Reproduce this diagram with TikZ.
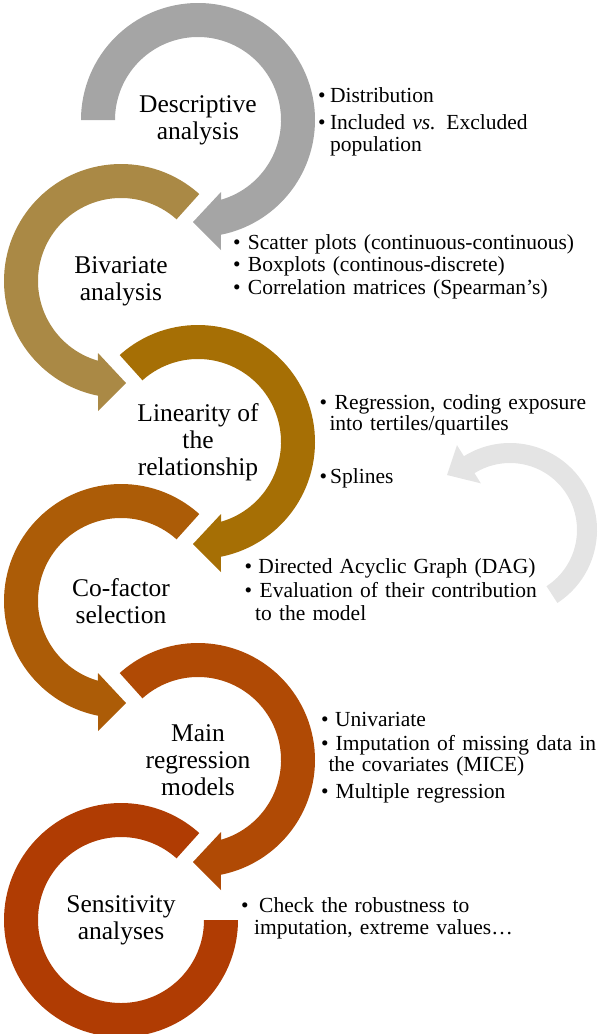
\documentclass[tikz,border=0pt]{standalone}
\usepackage{fontspec}
\setmainfont{Liberation Serif}

\definecolor{stepgray}{HTML}{A5A5A5}
\definecolor{steptan}{HTML}{AA8945}
\definecolor{stepgold}{HTML}{A66F05}
\definecolor{steprust}{HTML}{AC5C07}
\definecolor{stepbrick}{HTML}{B04A05}
\definecolor{stepred}{HTML}{B03C03}
\definecolor{backgray}{HTML}{E4E4E4}

% bullet followed by its text at a fixed offset
\newcommand{\bul}[1]{\makebox[#1][l]{\textbullet}}

\begin{document}
\begin{tikzpicture}[x=1pt,y=1pt]
  \tikzset{
    pics/ringarrow/.style={code={
      \fill (#1:117) arc[start angle=#1, end angle=-78.7, radius=117pt]
        -- (23,-130) -- (-5,-102) -- (23,-72) -- (-73.9:83)
        arc[start angle=-73.9, end angle=#1, radius=83pt] -- cycle;
    }},
    steplabel/.style={align=center, inner sep=0pt,
      font=\fontsize{25.5}{27}\selectfont},
    itemlist/.style={anchor=base west, align=left, inner sep=0pt,
      text width=360pt, font=\fontsize{21.5}{22.4}\selectfont},
  }
  \useasboundingbox (0,0) rectangle (600,-1034);

  % ring centres, top to bottom
  \coordinate (c1) at (198,-120);
  \coordinate (c2) at (121,-281);
  \coordinate (c3) at (198,-442);
  \coordinate (c4) at (121,-601);
  \coordinate (c5) at (198,-760);
  \coordinate (c6) at (121,-920);
  \coordinate (back) at (510,-530);

  % faint arrow pointing back from co-factors to linearity
  \begin{scope}[shift={(back)}]
    \fill[backgray] (-57:87) arc[start angle=-57, end angle=122, radius=87pt]
      -- (122:100) -- (-63,55) -- (122:55) -- (122:67)
      arc[start angle=122, end angle=-57, radius=67pt] -- cycle;
  \end{scope}

  % the ring arrows; even ones are mirrored
  \pic[stepgray] at (c1) {ringarrow=180};
  \pic[steptan, xscale=-1] at (c2) {ringarrow=132};
  \pic[stepgold] at (c3) {ringarrow=132};
  \pic[steprust, xscale=-1] at (c4) {ringarrow=132};
  \pic[stepbrick] at (c5) {ringarrow=132};
  \begin{scope}[shift={(c6)}]
    \fill[stepred] (48:117) arc[start angle=48, end angle=360, radius=117pt]
      -- (0:83) arc[start angle=360, end angle=48, radius=83pt] -- cycle;
  \end{scope}

  % step names
  \node[steplabel] (descriptive) at (c1) {Descriptive\\analysis};
  \node[steplabel] (bivariate) at (c2) {Bivariate\\analysis};
  \node[steplabel] (linearity) at (c3) {Linearity of\\the\\relationship};
  \node[steplabel] (cofactor) at (c4) {Co-factor\\selection};
  \node[steplabel] (mainreg) at (c5) {Main\\regression\\models};
  \node[steplabel] (sensitivity) at (c6) {Sensitivity\\analyses};

  % bullet lists beside the rings
  \node[itemlist] (descriptive-items) at (317.8,-102.3)
    {\bul{12pt}Distribution\\[4.6pt]\bul{12pt}Included \textit{vs.} Excluded\\\hspace*{12pt}population};
  \node[itemlist] (bivariate-items) at (232.8,-249.3)
    {\bul{15pt}Scatter plots (continuous-continuous)\\\bul{15pt}Boxplots (continous-discrete)\\\bul{15pt}Correlation matrices (Spearman’s)};
  \node[itemlist] (linearity-items) at (319.5,-409.3)
    {\bul{15pt}Regression, coding exposure\\[-1.7pt]\hspace*{9.8pt}into tertiles/quartiles\\[30.9pt]\bul{10.5pt}Splines};
  \node[itemlist] (cofactor-items) at (244.5,-573.5)
    {\bul{13.8pt}Directed Acyclic Graph (DAG)\\[1.1pt]\bul{15pt}Evaluation of their contribution\\[1.1pt]\hspace*{10.5pt}to the model};
  \node[itemlist] (mainreg-items) at (321,-726.7)
    {\bul{14pt}Univariate\\[0.9pt]\bul{14.5pt}Imputation of missing data in\\[-0.7pt]\hspace*{7.3pt}the covariates (MICE)\\[4.2pt]\bul{14.5pt}Multiple regression};
  \node[itemlist] (sensitivity-items) at (241,-912)
    {\bul{18pt}Check the robustness to\\\hspace*{13pt}imputation, extreme values…};
\end{tikzpicture}
\end{document}
